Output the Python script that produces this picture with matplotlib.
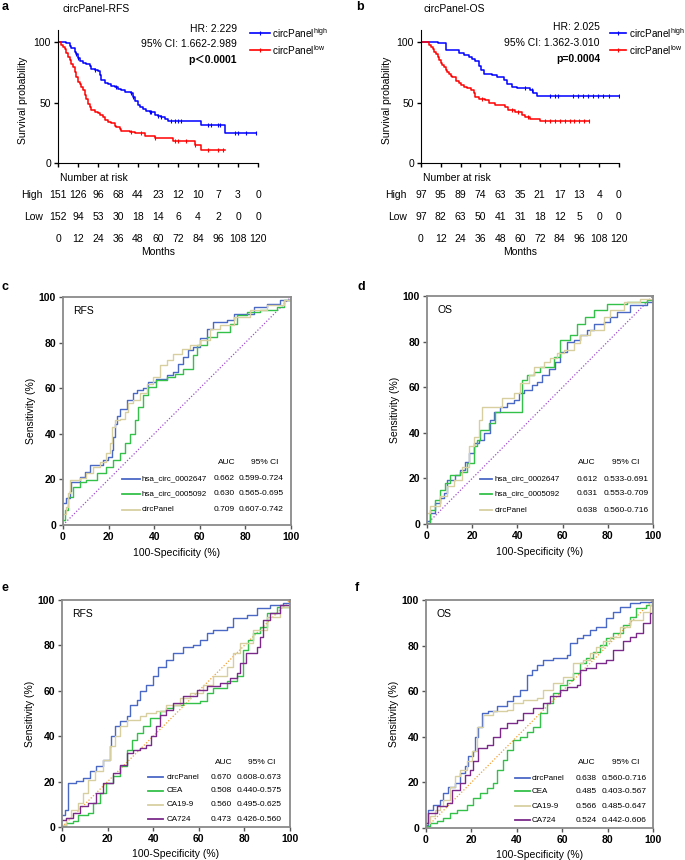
import numpy as np
import matplotlib
matplotlib.use('Agg')
import matplotlib.pyplot as plt
from matplotlib.lines import Line2D

plt.rcParams['font.family'] = ['Liberation Sans', 'Noto Sans CJK SC', 'DejaVu Sans']
plt.rcParams['mathtext.fontset'] = 'custom'
plt.rcParams['mathtext.rm'] = 'Liberation Sans'

W, H = 685, 860

# ---- Kaplan-Meier data (months, survival %) ----
risk_months = [0, 12, 24, 36, 48, 60, 72, 84, 96, 108, 120]

rfs_high_t = [0, 5, 7, 8, 10, 11, 12, 13, 15, 17, 19, 20, 22, 24, 25, 26, 28, 30, 32, 34, 36, 38, 40,
              44, 45, 46, 48, 49, 51, 53, 55, 58, 60, 62, 64, 66, 86, 100, 119]
rfs_high_s = [100, 99, 97, 95, 92, 90, 87, 84, 83, 81.5, 80, 78, 77, 76, 73, 69, 66, 65, 64, 63, 61, 60, 58.5,
              57.5, 55, 51, 48, 46, 45, 43, 42, 40, 39, 38, 36, 35, 31.5, 25, 25]
rfs_high_cens = [11, 12, 22, 35, 44, 45, 55, 56, 60, 62, 68, 70, 72, 74, 90, 92, 96, 97, 106, 108, 113, 119]
rfs_low_t = [0, 2, 3, 4, 5, 6, 7, 8, 9, 10, 11, 12, 13, 14, 15, 16, 17, 18, 19, 20, 22, 24, 25, 27, 28, 30,
             32, 34, 35, 37, 38, 43, 46, 52, 58, 69, 82, 86, 100]
rfs_low_s = [100, 98, 96, 94, 91, 88, 85, 82, 79, 75, 71, 67, 65, 63, 60, 56, 53, 49, 46, 44, 42, 41, 40, 38,
             35.5, 34, 33, 31, 30, 28, 26.5, 26, 25, 22.3, 20.4, 18, 15, 10.7, 10.7]
rfs_low_cens = [44, 50, 58, 70, 72, 77, 82, 90, 96, 99]
rfs_risk_high = [151, 126, 96, 68, 44, 23, 12, 10, 7, 3, 0]
rfs_risk_low = [152, 94, 53, 30, 18, 14, 6, 4, 2, 0, 0]

os_high_t = [0, 10, 15, 23, 26, 29, 31, 33, 35, 36.5, 38, 43, 46, 50, 52, 55, 58, 66, 68, 70, 120]
os_high_s = [100, 99, 93.5, 91, 89, 87.5, 86, 84, 80, 77, 74, 72.5, 71, 68.7, 65, 63, 61.8, 60.5, 58,
             55.4, 55.4]
os_high_cens = [63, 67, 78, 81, 83, 92, 95, 98, 101, 104, 107, 110, 114, 120]
os_low_t = [0, 5, 6, 7, 8, 9, 10, 11, 12, 13, 14, 15, 16, 17, 18, 19, 21, 23, 24, 26, 28, 30, 32, 33, 35,
            39, 41, 45, 51, 53, 57, 61, 63, 66, 72, 102]
os_low_s = [100, 98, 96, 94.5, 92, 90, 88, 85, 83, 81, 79, 77, 75, 73.5, 72, 71, 68, 66, 64.5, 63, 61.7,
            60, 58, 55, 53, 52, 49.3, 48, 46.6, 44, 42, 39.7, 38.3, 36.4, 35, 35]
os_low_cens = [37, 55, 59, 65, 75, 78, 81, 84, 87, 90, 93, 96, 99, 102]
os_risk_high = [97, 95, 89, 74, 63, 35, 21, 17, 13, 4, 0]
os_risk_low = [97, 82, 63, 50, 41, 31, 18, 12, 5, 0, 0]

# ---- ROC data (100-specificity %, sensitivity %) ----
c_2647_x = [0, 1.5, 3, 3.7, 7.3, 9.5, 11.7, 17.6, 19.8, 21.3, 22, 22.7, 23.5, 25, 27.9, 30.8, 32.3, 35.2,
            37.4, 41, 45.5, 48.4, 50.6, 52.8, 55, 57.2, 60, 63, 66, 71.8, 74.8, 83.6, 89.4, 95.3, 100]
c_2647_y = [9.5, 11.7, 15, 19, 21, 23.4, 26.3, 28.5, 30, 33, 38.7, 44.5, 48, 51, 54.7, 57.7, 59, 60, 62.8,
            64.2, 65.7, 67.2, 70.8, 73.7, 76.6, 78, 81.8, 86, 89, 90, 92.7, 95.6, 97, 98.5, 100]
c_5092_x = [0, 0.7, 2.2, 4.4, 7.3, 10.3, 14.7, 19, 22, 25, 27.1, 29.3, 31.5, 33, 35.2, 37.4, 41, 45.5, 49,
            52.8, 57.2, 58.6, 63, 67.4, 73.3, 76.2, 80.6, 86.5, 93.8, 96.8, 100]
c_5092_y = [2.2, 6.6, 12.4, 16.8, 19, 19.7, 22.6, 25.5, 28.5, 31.4, 35.8, 40.1, 46, 51.8, 57, 60.6, 63.5,
            65, 66.4, 68.6, 74.5, 78.8, 82.5, 84.7, 88.3, 92, 93.4, 94.2, 95.6, 98.5, 100]
c_panel_x = [0, 1.5, 2.2, 2.9, 7.3, 10.3, 13.2, 16.1, 19, 20.5, 21.3, 22.7, 25, 27.1, 28.6, 30.8, 33.7,
             36.7, 39.6, 42.5, 45.5, 48.4, 52, 55.7, 60, 64.5, 68.9, 74.8, 82, 89.4, 96.8, 100]
c_panel_y = [5, 8, 13.9, 19.7, 20.4, 22.6, 25.5, 27.7, 31.4, 35.8, 43, 46, 46.7, 49.6, 53.3, 54.7, 57.7,
             62, 65, 70, 72.3, 75.2, 77.4, 78.8, 81, 86, 87.6, 91.2, 94.2, 96.4, 98.5, 100]

d_2647_x = [0, 1.5, 3.7, 5.9, 7.4, 8.8, 12.5, 14.7, 17, 18.4, 20.6, 22.9, 25, 28, 29.5, 32.4, 35.4, 38.3,
            40.6, 42.8, 46.5, 48.7, 50.9, 53.8, 56.8, 59, 62, 64.9, 67.8, 70.8, 73.7, 78.2, 81.1, 84.1,
            90, 97.3, 100]
d_2647_y = [1.2, 4.8, 9.2, 11.4, 13.6, 19.4, 21.6, 23.8, 27.4, 31, 35.4, 36.9, 39.8, 45.6, 49.3, 51.5,
            52.9, 54.4, 57.3, 58.7, 60.9, 62.4, 65.3, 68.2, 71.1, 75.5, 79.9, 80.6, 82.8, 85, 87.9, 88.6,
            90.8, 93, 95.9, 97.4, 100]
d_5092_x = [0, 1.5, 3.7, 5.9, 8.1, 10.3, 14.7, 17.7, 20.6, 22.1, 23.6, 27.3, 30.1, 39.8, 42, 44.2, 47.2,
            50.1, 56, 59, 63.4, 66.4, 70, 73.7, 79.6, 88.5, 97.3, 100]
d_5092_y = [0.4, 6.3, 10.6, 15, 17.9, 21.6, 23, 26.7, 34, 36.9, 41.3, 44.2, 49.3, 49.3, 63.1, 65.3, 66.8,
            69, 73.3, 80.6, 82.8, 87.9, 90.8, 93.7, 96.6, 97.4, 98.1, 100]
d_panel_x = [0, 1.5, 5.9, 8.8, 11.8, 15.5, 18.4, 20.6, 22.9, 24.3, 31, 33.2, 38.3, 41.3, 45, 47.2, 51.6,
             54.6, 57.5, 60.5, 64.9, 67.8, 72.3, 78.2, 81.1, 87, 94.4, 100]
d_panel_y = [4.8, 7.7, 12.1, 16.5, 19.4, 25.2, 34, 38.3, 45.6, 51.5, 51.5, 55.1, 57.3, 61.7, 65.3, 69,
             71.1, 72.6, 74.8, 76.2, 79.2, 82.8, 85, 90.8, 93.7, 97.4, 98.8, 100]

e_panel_x = [0, 1.2, 2.6, 6.3, 9.2, 12.2, 15.1, 18, 20.9, 21.7, 23.1, 25.3, 28.3, 29.7, 32.7, 34.1, 37,
             40, 42.2, 45.8, 48.8, 53.1, 57.5, 60.5, 63.4, 66.3, 72.2, 75.1, 81, 85.4, 91.2, 97.1, 100]
e_panel_y = [5.4, 7.6, 19.4, 20.1, 21.6, 24.5, 26.7, 29.6, 35.5, 39.9, 44.3, 46.5, 48.7, 53.8, 56, 59.7,
             62.6, 66.3, 70.7, 73.6, 76.5, 79.5, 80.2, 82.4, 85.3, 86.8, 88.3, 91.9, 93.4, 96.3, 97.8,
             98.5, 100]
e_cea_x = [0, 1.9, 4.8, 7, 11.4, 13.6, 16.5, 19.5, 22.4, 25.3, 28.3, 30.5, 32.7, 35.6, 38.5, 42.9, 45.8,
           48.8, 53.1, 60.5, 63.4, 66.3, 72.2, 76.6, 79.5, 81.7, 83.9, 86.8, 89.8, 94.1, 100]
e_cea_y = [0.3, 1.8, 2.5, 5.4, 6.2, 10.6, 15, 19.4, 22.3, 26.7, 34, 38.4, 41.3, 44.3, 47.9, 50.9, 52.3,
           53.8, 54.5, 55.3, 58.9, 61.1, 64.1, 66.3, 78, 82.4, 85.3, 88.3, 94.1, 97.1, 100]
e_ca199_x = [0, 1.9, 4.1, 7, 9.2, 11.4, 14.3, 18, 20.9, 23.1, 25.3, 28.3, 34.1, 37, 41.4, 45.8, 51.7,
             56.1, 61.9, 66.3, 72.2, 75.1, 78, 83.9, 89.8, 95.6, 100]
e_ca199_y = [1, 4, 7.6, 10.6, 15, 20.8, 24.5, 29.6, 35.5, 39.9, 44.3, 47.2, 48.7, 50.1, 50.9, 53.8, 56.7,
             58.9, 62.6, 66.3, 70.7, 76.5, 80.9, 86.8, 92.7, 97.1, 100]
e_ca724_x = [0, 1.9, 4.8, 7.8, 11.4, 15.1, 18, 22.4, 25.3, 28.3, 31.2, 34.1, 37, 39.2, 41.4, 42.8, 45.8,
             48.8, 53.1, 59, 63.4, 69.3, 73.6, 76.6, 78, 80.9, 85.4, 86.8, 88.3, 91.2, 95.6, 100]
e_ca724_y = [3.2, 4, 6.2, 9.1, 10.6, 15, 19.4, 23.8, 27.4, 32.6, 34, 34.8, 36.2, 39.9, 44.3, 49.4, 51.6,
             54.5, 57.5, 60.4, 61.9, 63.3, 65.5, 67.7, 72.1, 76.5, 79.5, 83.9, 91.2, 94.1, 97.8, 100]

f_panel_x = [0, 1, 3.2, 6.2, 7.6, 9.8, 12.8, 15, 17.2, 18.6, 20.8, 21.6, 23, 24.5, 27.4, 31.1, 35.5, 38.4,
             41.3, 44.3, 46.5, 48.7, 51.6, 56, 61.9, 63.3, 66.3, 69.2, 72.1, 75.1, 79.5, 82.4, 85.3,
             89.7, 94.1, 100]
f_panel_y = [1.5, 8, 10.2, 12.4, 15.3, 18.2, 19.7, 24.1, 27, 31.4, 33.6, 40.1, 44.5, 50.4, 51.1, 53.3,
             55.5, 57.7, 60.6, 67.2, 69.3, 71.5, 73.7, 74.5, 75.9, 81, 83.2, 84.7, 86.9, 88.3, 92, 94.9,
             97.1, 98.5, 99.3, 100]
f_cea_x = [0, 1.8, 4.7, 7.6, 10.6, 13.5, 17.9, 20.8, 23.8, 26.7, 29.6, 31.1, 34, 35.5, 38.4, 41.3, 44.3,
           47.2, 50.1, 53.1, 56, 58.9, 61.9, 64.8, 67.7, 70.7, 73.6, 76.5, 79.5, 82.4, 86.8, 89.7, 92.7,
           97.1, 100]
f_cea_y = [0.7, 2.2, 2.9, 4.4, 6.6, 8, 10.2, 13.1, 15.3, 17.5, 19.7, 25.5, 29.9, 34.3, 38.7, 40.1, 42.3,
           44.5, 50.4, 54.7, 59.1, 62.8, 65, 67.9, 72.3, 74.5, 77.4, 80.3, 83.2, 85.4, 89.1, 92.7, 96.4,
           97.8, 100]
f_ca199_x = [0, 1.8, 4, 6.2, 7.6, 10.6, 12.8, 15, 17.9, 20.1, 22.3, 25.2, 29.6, 32.6, 35.5, 38.4, 42.8,
             48.7, 51.6, 56, 60.4, 64.8, 69.2, 72.1, 75.1, 78, 80.9, 85.3, 89.7, 95.6, 98.5, 100]
f_ca199_y = [2.2, 5.1, 8, 9.5, 12.4, 18.2, 22.6, 25.5, 29.2, 33.6, 44.5, 49.6, 51.1, 51.1, 51.8, 54.7,
             56.2, 56.9, 60.6, 63.5, 66.4, 72.3, 73.7, 76.6, 79.6, 81.8, 83.9, 88.3, 91.2, 94.9, 97.8, 100]
f_ca724_x = [0, 1, 4.7, 9.1, 11.3, 15, 17.2, 19.4, 20.8, 23, 26.7, 29.6, 32.6, 35.5, 39.9, 42.8, 47.2,
             51.6, 54.5, 58.9, 61.9, 66.3, 67.7, 70.7, 75.1, 79.5, 82.4, 86.8, 89.7, 92.7, 95.6, 98.5, 100]
f_ca724_y = [2.2, 6.6, 9.5, 10.9, 16.8, 19.7, 23.4, 25.5, 29.2, 35, 36.5, 40.1, 43.8, 46, 47.4, 50.4,
             52.6, 54.7, 57.7, 60.6, 62, 62.8, 69.3, 70.1, 72.3, 73.7, 78.1, 81.8, 83.9, 85.4, 89.8, 94.2,
             100]

c_names = ['hsa_circ_0002647', 'hsa_circ_0005092', 'circPanel']
c_auc = ['0.662', '0.630', '0.709']
c_ci = ['0.599-0.724', '0.565-0.695', '0.607-0.742']
d_auc = ['0.612', '0.631', '0.638']
d_ci = ['0.533-0.691', '0.553-0.709', '0.560-0.716']
ef_names = ['circPanel', 'CEA', 'CA19-9', 'CA724']
e_auc = ['0.670', '0.508', '0.560', '0.473']
e_ci = ['0.608-0.673', '0.440-0.575', '0.495-0.625', '0.426-0.560']
f_auc = ['0.638', '0.485', '0.566', '0.524']
f_ci = ['0.560-0.716', '0.403-0.567', '0.485-0.647', '0.442-0.606']

BLUE, GREEN, TAN, PURPLE = '#4a68c6', '#34c14a', '#d8cfa0', '#7b2a8a'

fig = plt.figure(figsize=(6.85, 8.6), dpi=100)


def rect(l, t, r, b):
    return [l / W, 1 - b / H, (r - l) / W, (b - t) / H]


def ftext(x, y, s, **kw):
    fig.text(x / W, 1 - y / H, s, **kw)


def fline(x0, x1, y, color, marker=False):
    fig.add_artist(Line2D([x0 / W, x1 / W], [1 - y / H] * 2, color=color, lw=1.2))
    if marker:
        fig.add_artist(Line2D([(x0 + x1) / 2 / W], [1 - y / H], color=color,
                              marker='|', ms=3, mew=0.8))


def km_panel(r, groups, risk_high, risk_low, label_x, ylab_x):
    ax = fig.add_axes(r)
    for t, s, cens, color in groups:
        ax.step(t, s, where='post', color=color, lw=1.1)
        t = np.array(t)
        s_c = np.array(s)[np.searchsorted(t, cens, side='right') - 1]
        ax.plot(cens, s_c, ls='none', marker='|', ms=3, mew=0.8, color=color)
    ax.set_xlim(0, 120)
    ax.set_ylim(0, 110)
    ax.set_xticks(risk_months)
    ax.set_xticklabels([])
    ax.set_yticks([0, 50, 100])
    ax.tick_params(direction='out', length=3, width=1, labelsize=7.5, pad=2)
    for sp in ['top', 'right']:
        ax.spines[sp].set_visible(False)
    ax.set_ylabel('Survival probability', fontsize=7.5)
    ax.yaxis.set_label_coords(ylab_x, 0.47)
    tr = ax.get_xaxis_transform()
    ax.text(1, -0.113, 'Number at risk', transform=tr, fontsize=7.5, va='center', ha='left')
    ax.text(label_x, -0.241, 'High', transform=tr, fontsize=7.5, va='center', ha='right')
    ax.text(label_x, -0.406, 'Low', transform=tr, fontsize=7.5, va='center', ha='right')
    for m, hi, lo in zip(risk_months, risk_high, risk_low):
        ax.text(m, -0.241, str(hi), transform=tr, fontsize=7.5, va='center', ha='center')
        ax.text(m, -0.406, str(lo), transform=tr, fontsize=7.5, va='center', ha='center')
        ax.text(m, -0.571, str(m), transform=tr, fontsize=7.5, va='center', ha='center')
    ax.text(60, -0.669, 'Months', transform=tr, fontsize=7.5, va='center', ha='center')
    return ax


def roc_panel(r, curves, diag_color, tag, names, aucs, cis, lay, xlab_y):
    ax = fig.add_axes(r)
    ax.plot([0, 100], [0, 100], ls=(0, (1, 1.5)), color=diag_color, lw=0.9)
    for x, y, c in curves:
        ax.plot(x, y, color=c, lw=1.0, drawstyle='steps-post')
    ax.set_xlim(0, 100)
    ax.set_ylim(0, 100)
    ax.set_xticks(range(0, 101, 20))
    ax.set_yticks(range(0, 101, 20))
    for sp in ax.spines.values():
        sp.set_color('#8a8a8a')
        sp.set_linewidth(1.3)
    ax.tick_params(direction='out', length=3, width=1, color='#555555', labelsize=7.5, pad=2)
    for lab in ax.get_xticklabels() + ax.get_yticklabels():
        lab.set_fontweight('bold')
    ax.set_ylabel('Sensitivity (%)', fontsize=7.5)
    ax.yaxis.set_label_coords(-0.12, 0.5)
    ax.set_xlabel('100-Specificity (%)', fontsize=7.5)
    ax.xaxis.set_label_coords(0.5, xlab_y)
    ax.text(0.045, 0.94, tag, transform=ax.transAxes, fontsize=7.5, va='center')
    lx0, lx1, tx, ax_auc, ax_ci, hy, hauc, hci, rows = lay
    ax.text(hauc, hy, 'AUC', transform=ax.transAxes, fontsize=6, ha='center', va='center')
    ax.text(hci, hy, '95% CI', transform=ax.transAxes, fontsize=6, ha='center', va='center')
    for (x, y, c), n, a, ci, ry in zip(curves, names, aucs, cis, rows):
        ax.plot([lx0, lx1], [ry, ry], color=c, lw=1.3, transform=ax.transAxes)
        ax.text(tx, ry, n, transform=ax.transAxes, fontsize=5.8, va='center')
        ax.text(ax_auc, ry, a, transform=ax.transAxes, fontsize=6, va='center')
        ax.text(ax_ci, ry, ci, transform=ax.transAxes, fontsize=6, va='center')
    return ax


# ---- a ----
km_panel(rect(58, 30, 258, 163),
         [(rfs_high_t, rfs_high_s, rfs_high_cens, '#0000ff'),
          (rfs_low_t, rfs_low_s, rfs_low_cens, '#ff0000')],
         rfs_risk_high, rfs_risk_low, -9, -0.15)
ftext(2, 7, 'a', fontsize=9, fontweight='bold', va='center')
ftext(62, 9, 'circPanel-RFS', fontsize=7.5, va='center')
ftext(237, 29, 'HR: 2.229', fontsize=7.5, ha='right', va='center')
ftext(237, 44, '95% CI: 1.662-2.989', fontsize=7.5, ha='right', va='center')
ftext(237, 60, 'p＜0.0001', fontsize=7.5, ha='right', va='center', fontweight='bold')
fline(250, 270, 33, '#0000ff', True)
fline(250, 270, 50, '#ff0000', True)
ftext(272, 33, r'circPanel$^{\mathrm{high}}$', fontsize=7.2, va='center')
ftext(272, 50, r'circPanel$^{\mathrm{low}}$', fontsize=7.2, va='center')

# ---- b ----
km_panel(rect(421, 30, 619, 163),
         [(os_high_t, os_high_s, os_high_cens, '#0000ff'),
          (os_low_t, os_low_s, os_low_cens, '#ff0000')],
         os_risk_high, os_risk_low, -8.5, -0.146)
ftext(356, 7, 'b', fontsize=9, fontweight='bold', va='center')
ftext(423, 9, 'circPanel-OS', fontsize=7.5, va='center')
ftext(600, 27, 'HR: 2.025', fontsize=7.5, ha='right', va='center')
ftext(600, 43, '95% CI: 1.362-3.010', fontsize=7.5, ha='right', va='center')
ftext(600, 59, 'p=0.0004', fontsize=7.5, ha='right', va='center', fontweight='bold')
fline(610, 626, 33, '#0000ff', True)
fline(610, 626, 50, '#ff0000', True)
ftext(629, 33, r'circPanel$^{\mathrm{high}}$', fontsize=7.2, va='center')
ftext(629, 50, r'circPanel$^{\mathrm{low}}$', fontsize=7.2, va='center')

# ---- c ----
roc_panel(rect(63, 297, 291, 525),
          [(c_2647_x, c_2647_y, BLUE), (c_5092_x, c_5092_y, GREEN), (c_panel_x, c_panel_y, TAN)],
          '#a24fd0', 'RFS', c_names, c_auc, c_ci,
          (0.259, 0.338, 0.346, 0.662, 0.772, 0.276, 0.72, 0.886, [0.202, 0.136, 0.066]), -0.10)
ftext(2, 287, 'c', fontsize=9, fontweight='bold', va='center')

# ---- d ----
roc_panel(rect(427, 296, 653, 524),
          [(d_2647_x, d_2647_y, BLUE), (d_5092_x, d_5092_y, GREEN), (d_panel_x, d_panel_y, TAN)],
          '#a24fd0', 'OS', c_names, d_auc, d_ci,
          (0.235, 0.288, 0.30, 0.66, 0.78, 0.27, 0.708, 0.88, [0.197, 0.132, 0.061]), -0.10)
ftext(357, 287, 'd', fontsize=9, fontweight='bold', va='center')

# ---- e ----
roc_panel(rect(62, 600, 290, 827),
          [(e_panel_x, e_panel_y, BLUE), (e_cea_x, e_cea_y, GREEN),
           (e_ca199_x, e_ca199_y, TAN), (e_ca724_x, e_ca724_y, PURPLE)],
          '#f5a030', 'RFS', ef_names, e_auc, e_ci,
          (0.377, 0.443, 0.46, 0.654, 0.768, 0.286, 0.71, 0.877, [0.22, 0.159, 0.097, 0.035]), -0.097)
ftext(2, 588, 'e', fontsize=9, fontweight='bold', va='center')

# ---- f ----
roc_panel(rect(426, 600, 653, 828),
          [(f_panel_x, f_panel_y, BLUE), (f_cea_x, f_cea_y, GREEN),
           (f_ca199_x, f_ca199_y, TAN), (f_ca724_x, f_ca724_y, PURPLE)],
          '#f5a030', 'OS', ef_names, f_auc, f_ci,
          (0.392, 0.458, 0.467, 0.661, 0.775, 0.289, 0.709, 0.881, [0.219, 0.162, 0.096, 0.035]), -0.097)
ftext(355, 588, 'f', fontsize=9, fontweight='bold', va='center')

fig.savefig('out.png', dpi=100)
